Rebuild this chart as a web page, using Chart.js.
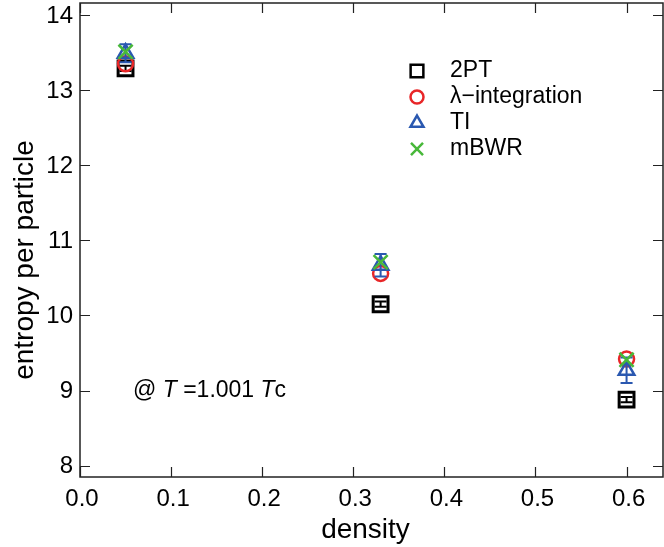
<!DOCTYPE html>
<html>
<head>
<meta charset="utf-8">
<script src="https://cdn.jsdelivr.net/npm/chart.js@4.4.0/dist/chart.umd.min.js"></script>
<style>
html, body { margin: 0; padding: 0; background: #fff; }
</style>
</head>
<body>
<canvas id="c" width="664" height="547"></canvas>
<script>
// values
const densities = [0.05, 0.33, 0.6];
const s2PT = [13.29, 10.15, 8.88];
const err2PT = [0.035, 0.035, 0.035];
const sLambda = [13.35, 10.56, 9.42];
const sTI = [13.49, 10.67, 9.27];
const errTI = [0.12, 0.15, 0.17];
const sMBWR = [13.51, 10.71, 9.41];
const xTicks = [0, 0.1, 0.2, 0.3, 0.4, 0.5, 0.6];
const yTicks = [8, 9, 10, 11, 12, 13, 14];

const RED = 'rgb(232,38,40)';
const BLUE = 'rgb(42,88,176)';
const GREEN = 'rgb(72,184,58)';
const TXTFONT = "'Liberation Sans', Arial, sans-serif";

function pts(vals) {
    return densities.map((d, i) => ({ x: d, y: vals[i] }));
}

const legendItems = [
    { label: '2PT', color: '#000', style: 'rect', r: 9 },
    { label: 'λ−integration', color: RED, style: 'circle', r: 6.5 },
    { label: 'TI', color: BLUE, style: 'triangle', r: 7.5 },
    { label: 'mBWR', color: GREEN, style: 'crossRot', r: 8.5 }
];

const errorBars = {
    id: 'errorBars',
    afterDatasetDraw(chart, args) {
        const ds = chart.data.datasets[args.index];
        if (!ds.errors) return;
        const ctx = chart.ctx, x = chart.scales.x, y = chart.scales.y;
        ctx.save();
        ctx.strokeStyle = ds.borderColor;
        ctx.lineWidth = 2;
        ds.data.forEach((p, i) => {
            const e = ds.errors[i];
            const px = x.getPixelForValue(p.x);
            const y1 = y.getPixelForValue(p.y - e);
            const y2 = y.getPixelForValue(p.y + e);
            ctx.beginPath();
            ctx.moveTo(px, y1); ctx.lineTo(px, y2);
            ctx.moveTo(px - 6, y1); ctx.lineTo(px + 6, y1);
            ctx.moveTo(px - 6, y2); ctx.lineTo(px + 6, y2);
            ctx.stroke();
        });
        ctx.restore();
    }
};

const frame = {
    id: 'frame',
    afterDraw(chart) {
        const ctx = chart.ctx, a = chart.chartArea;
        const x = chart.scales.x, y = chart.scales.y;
        ctx.save();
        ctx.strokeStyle = '#222';
        ctx.lineWidth = 1.5;
        ctx.strokeRect(a.left, a.top, a.right - a.left, a.bottom - a.top);
        ctx.lineWidth = 1.2;
        ctx.beginPath();
        xTicks.forEach(v => {
            const px = Math.round(x.getPixelForValue(v)) + 0.5;
            ctx.moveTo(px, a.bottom); ctx.lineTo(px, a.bottom - 10);
            ctx.moveTo(px, a.top); ctx.lineTo(px, a.top + 10);
        });
        yTicks.forEach(v => {
            const py = Math.round(y.getPixelForValue(v)) + 0.5;
            ctx.moveTo(a.left, py); ctx.lineTo(a.left + 10, py);
            ctx.moveTo(a.right, py); ctx.lineTo(a.right - 10, py);
        });
        ctx.stroke();

        // tick labels
        ctx.fillStyle = '#000';
        ctx.font = '24px ' + TXTFONT;
        ctx.textBaseline = 'middle';
        ctx.textAlign = 'right';
        yTicks.forEach(v => ctx.fillText(String(v), a.left - 7, y.getPixelForValue(v) + 1));
        ctx.textAlign = 'center';
        xTicks.forEach(v => ctx.fillText(v.toFixed(1), x.getPixelForValue(v) + 2, a.bottom + 22));

        // axis titles
        ctx.font = '28px ' + TXTFONT;
        ctx.fillText('density', (a.left + a.right) / 2 - 6, 530);
        ctx.save();
        ctx.translate(25, 260);
        ctx.rotate(-Math.PI / 2);
        ctx.fillText('entropy per particle', 0, 0);
        ctx.restore();

        // legend
        legendItems.forEach((it, i) => {
            const ly = 71 + i * 26;
            ctx.strokeStyle = it.color;
            ctx.fillStyle = 'rgba(0,0,0,0)';
            ctx.lineWidth = 2.5;
            Chart.helpers.drawPoint(ctx, { pointStyle: it.style, radius: it.r, rotation: 0, borderWidth: 2.5 }, 417, ly);
            ctx.fillStyle = '#000';
            ctx.textAlign = 'left';
            ctx.font = '23px ' + TXTFONT;
            ctx.fillText(it.label, 450, ly);
        });

        // annotation
        const parts = [['@ ', ''], ['T', 'italic '], [' =1.001 ', ''], ['T', 'italic '], ['c', '']];
        let tx = 133;
        ctx.textAlign = 'left';
        ctx.textBaseline = 'alphabetic';
        parts.forEach(p => {
            ctx.font = p[1] + '23px ' + TXTFONT;
            ctx.fillText(p[0], tx, 397);
            tx += ctx.measureText(p[0]).width;
        });
        ctx.restore();
    }
};

new Chart(document.getElementById('c'), {
    type: 'scatter',
    data: {
        datasets: [
            {
                label: '2PT', data: pts(s2PT), errors: err2PT, order: 4,
                borderColor: '#000', backgroundColor: 'rgba(0,0,0,0)',
                pointStyle: 'rect', pointRadius: 10.5, borderWidth: 3
            },
            {
                label: 'λ−integration', data: pts(sLambda), order: 3,
                borderColor: RED, backgroundColor: 'rgba(0,0,0,0)',
                pointStyle: 'circle', pointRadius: 7.5, borderWidth: 2.5
            },
            {
                label: 'TI', data: pts(sTI), errors: errTI, order: 2,
                borderColor: BLUE, backgroundColor: 'rgba(0,0,0,0)',
                pointStyle: 'triangle', pointRadius: 9, borderWidth: 2.5
            },
            {
                label: 'mBWR', data: pts(sMBWR), order: 1,
                borderColor: GREEN, backgroundColor: 'rgba(0,0,0,0)',
                pointStyle: 'crossRot', pointRadius: 10, borderWidth: 2.5
            }
        ]
    },
    options: {
        responsive: false,
        animation: false,
        devicePixelRatio: 1,
        layout: { autoPadding: false, padding: { top: 3, right: 1, left: 0, bottom: 0 } },
        plugins: { legend: { display: false }, tooltip: { enabled: false } },
        scales: {
            x: {
                type: 'linear', min: 0, max: 0.64,
                afterBuildTicks: s => { s.ticks = xTicks.map(v => ({ value: v })); },
                afterFit: s => { s.height = 70; },
                grid: { display: false }, border: { display: false },
                ticks: { display: false }
            },
            y: {
                type: 'linear', min: 7.85, max: 14.16,
                afterBuildTicks: s => { s.ticks = yTicks.map(v => ({ value: v })); },
                afterFit: s => { s.width = 80; },
                grid: { display: false }, border: { display: false },
                ticks: { display: false }
            }
        }
    },
    plugins: [errorBars, frame]
});
</script>
</body>
</html>
